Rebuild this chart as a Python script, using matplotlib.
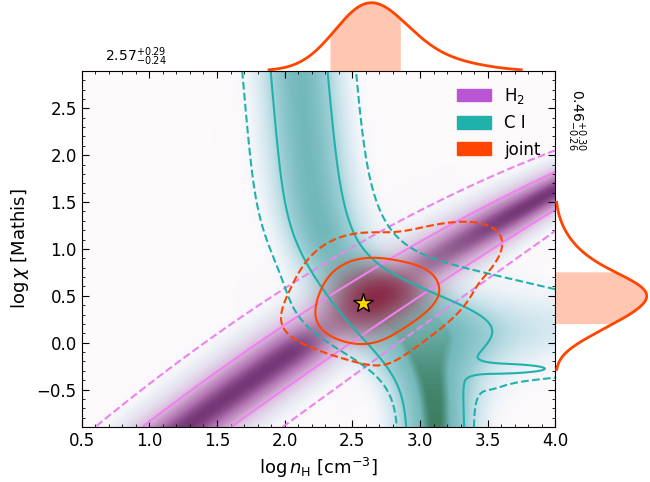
import numpy as np
import matplotlib
matplotlib.use("Agg")
import matplotlib.pyplot as plt
from matplotlib.colors import LinearSegmentedColormap
from matplotlib.patches import Patch
from matplotlib.ticker import MultipleLocator

# ---------------- data ----------------
x_range = [0.5, 4.0]          # log nH
y_range = [-0.9, 2.9]         # log chi
x_ticks = [0.5, 1.0, 1.5, 2.0, 2.5, 3.0, 3.5, 4.0]
y_ticks = [-0.5, 0.0, 0.5, 1.0, 1.5, 2.0, 2.5]

# H2 likelihood band: centre line and width (polynomials in x - pivot)
h2_pivot = 2.5
h2_centre = [0.33, 0.938, -0.051]
h2_width = [0.32, -0.05, -0.02]
h2_chi_levels = [2.15, 1.0]

# C I likelihood ridge: x position moves from the top value to the bottom value
ci_x_top = [2.28, -0.06]                 # top branch x = a + b*y
ci_x_bottom = 3.12
ci_turn = [0.40, 0.30]                   # y of the turn, turn width
ci_left_width = [0.21, 0.14, 0.15, 0.35]   # base, extra, y of extra, spread
ci_right_width = [0.21, 0.25, 0.25, 0.30]
ci_tail_power = [5.0, -0.35, 0.15]       # profile power at bottom, y, spread
ci_wing = [0.30, 3.45, 0.085, 0.17, 0.53, -0.40]   # amp, x0, y(x0), dy/dx, spread(x0), dspread/dx
ci_streak = [0.75, -0.28, 0.05, 3.45, 0.50]        # amp, y, y spread, x, x spread
ci_chi_levels = [2.0, 1.0]

joint_temper = 0.78
joint_mass = [0.95, 0.68]

star_x, star_y = 2.58, 0.42
nH_med, nH_lo, nH_hi = 2.57, 0.24, 0.29
chi_med, chi_lo, chi_hi = 0.46, 0.26, 0.30

# ---------------- fields ----------------
gx = np.linspace(x_range[0], x_range[1], 600)
gy = np.linspace(y_range[0], y_range[1], 600)
X, Y = np.meshgrid(gx, gy)

u = X - h2_pivot
cH = np.polyval(h2_centre[::-1], u)
sH = np.polyval(h2_width[::-1], u)
LH = np.exp(-0.5 * ((Y - cH) / sH) ** 2)

def bump(v, p):
    return p[0] + p[1] * np.exp(-0.5 * ((v - p[2]) / p[3]) ** 2)

def sigm(t):
    return 1.0 / (1.0 + np.exp(-t))

turn = sigm((Y - ci_turn[0]) / ci_turn[1])
x_top = ci_x_top[0] + ci_x_top[1] * Y
cC = ci_x_bottom - (ci_x_bottom - x_top) * turn
rC = X - cC
sC = np.where(rC < 0, bump(Y, ci_left_width), bump(Y, ci_right_width))
pw = 2.0 + (ci_tail_power[0] - 2.0) * (1 - sigm((Y - ci_tail_power[1]) / ci_tail_power[2]))
ridge = np.exp(-0.5 * np.abs(rC / sC) ** pw)
ridge_img = np.exp(-0.5 * (rC / sC) ** 2)
gate = sigm((rC - 0.2) / 0.1)
w_y = ci_wing[2] + ci_wing[3] * (X - ci_wing[1])
w_s = np.clip(ci_wing[4] + ci_wing[5] * (X - ci_wing[1]), 0.05, None)
wing = ci_wing[0] * np.exp(-0.5 * ((Y - w_y) / w_s) ** 2) * gate
streak = ci_streak[0] * np.exp(-0.5 * ((Y - ci_streak[1]) / ci_streak[2]) ** 2) \
    * np.exp(-0.5 * ((X - ci_streak[3]) / ci_streak[4]) ** 2) * gate
LC = ridge + wing + streak

LJ = (LH * LC) ** joint_temper
LJ = LJ / LJ.max()
flat = np.sort(LJ.ravel())[::-1]
cum = np.cumsum(flat) / flat.sum()
j_levels = sorted([flat[np.searchsorted(cum, m)] for m in joint_mass])

# ---------------- colour maps ----------------
def rgba_cmap(name, stops):
    return LinearSegmentedColormap.from_list(
        name, [(p, (r / 255, g / 255, b / 255, a)) for p, (r, g, b, a) in stops])

cm_h2 = rgba_cmap("h2", [(0.0, (245, 248, 252, 0.0)), (0.25, (214, 222, 236, 0.5)),
                         (0.6, (206, 162, 210, 0.75)), (0.86, (168, 98, 168, 0.9)),
                         (1.0, (118, 55, 120, 1.0))])
cm_ci = rgba_cmap("ci", [(0.0, (245, 248, 252, 0.0)), (0.25, (196, 224, 236, 0.5)),
                         (0.6, (128, 194, 202, 0.78)), (0.9, (100, 178, 180, 0.9)),
                         (1.0, (62, 128, 100, 1.0))])
cm_j = rgba_cmap("j", [(0.0, (255, 255, 255, 0.0)), (0.3, (205, 110, 130, 0.22)),
                       (0.7, (172, 50, 82, 0.6)), (1.0, (145, 22, 55, 0.85))])

ci_img = np.clip(ridge_img + wing, 0, 1) * (0.9 + 0.1 * (1 - sigm((Y + 0.1) / 0.2)))

# ---------------- figure ----------------
fig = plt.figure(figsize=(6.5, 4.82), dpi=100)
ax = fig.add_axes([0.1257, 0.114, 0.7286, 0.739])
ax_t = fig.add_axes([0.1257, 0.853, 0.7286, 0.147])
ax_r = fig.add_axes([0.8543, 0.114, 0.1457, 0.739])
ax.set_facecolor("#fdfafc")

ext = [x_range[0], x_range[1], y_range[0], y_range[1]]
ax.imshow(LH, origin="lower", extent=ext, aspect="auto", cmap=cm_h2, vmin=0, vmax=1,
          interpolation="bilinear")
ax.contour(X, Y, LH, levels=[np.exp(-0.5 * c ** 2) for c in h2_chi_levels], colors="violet",
           linestyles=["--", "-"], linewidths=1.5)
ax.imshow(ci_img, origin="lower", extent=ext, aspect="auto", cmap=cm_ci, vmin=0, vmax=1,
          interpolation="bilinear")
ax.contour(X, Y, LC, levels=[np.exp(-0.5 * c ** 2) for c in ci_chi_levels], colors="lightseagreen",
           linestyles=["--", "-"], linewidths=1.5)
ax.imshow(LJ, origin="lower", extent=ext, aspect="auto", cmap=cm_j, vmin=0, vmax=1,
          interpolation="bilinear")
ax.contour(X, Y, LJ, levels=j_levels, colors="orangered", linestyles=["--", "-"], linewidths=1.5)
ax.plot([star_x], [star_y], marker="*", ms=15, mfc="gold", mec="black", mew=1.0, ls="none", zorder=5)

ax.set_xlim(x_range)
ax.set_ylim(y_range)
ax.set_xticks(x_ticks)
ax.set_yticks(y_ticks)
ax.xaxis.set_minor_locator(MultipleLocator(0.1))
ax.yaxis.set_minor_locator(MultipleLocator(0.1))
ax.tick_params(which="both", direction="in", top=True, right=True, labelsize=12)
ax.tick_params(which="major", length=5)
ax.tick_params(which="minor", length=2.5)
ax.set_xlabel(r"$\log n_{\rm H}$ [cm$^{-3}$]", fontsize=13)
ax.set_ylabel(r"$\log \chi$ [Mathis]", fontsize=13)

handles = [Patch(color="mediumorchid", label=r"H$_2$"), Patch(color="lightseagreen", label="C I"),
           Patch(color="orangered", label="joint")]
ax.legend(handles=handles, loc="upper right", frameon=False, fontsize=12, handlelength=2.0,
          handleheight=0.8, labelspacing=0.5)

# marginals
px = LJ.sum(axis=0); px = px / px.max()
py = LJ.sum(axis=1); py = py / py.max()
kx = px > 1.5e-2
ky = py > 1.5e-2
ax_t.plot(gx[kx], px[kx], color="orangered", lw=2)
m = (gx >= nH_med - nH_lo) & (gx <= nH_med + nH_hi)
ax_t.fill_between(gx[m], 0, px[m], color="orangered", alpha=0.3, lw=0)
ax_t.set_xlim(x_range); ax_t.set_ylim(0, 1.04)
ax_t.axis("off")
ax_t.text(0.67, 0.14, r"$2.57^{+0.29}_{-0.24}$", fontsize=10)

ax_r.plot(py[ky], gy[ky], color="orangered", lw=2)
m = (gy >= chi_med - chi_lo) & (gy <= chi_med + chi_hi)
ax_r.fill_betweenx(gy[m], 0, py[m], color="orangered", alpha=0.3, lw=0)
ax_r.set_ylim(y_range); ax_r.set_xlim(0, 1.036)
ax_r.axis("off")
ax_r.text(0.11, 2.37, r"$0.46^{+0.30}_{-0.26}$", fontsize=10, rotation=-90, va="center", ha="left")

fig.savefig("out.png", dpi=100)
